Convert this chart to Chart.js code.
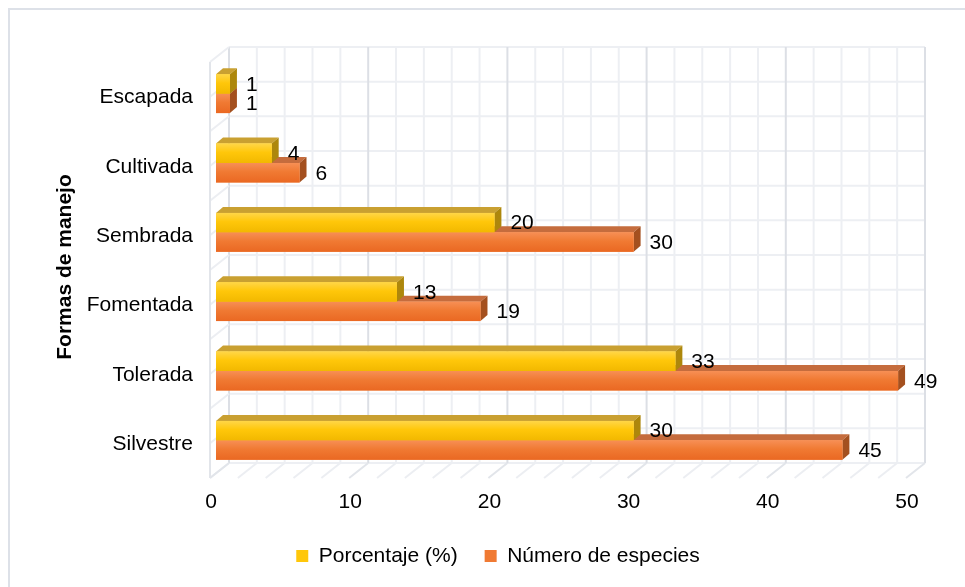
<!DOCTYPE html>
<html>
<head>
<meta charset="utf-8">
<title>Formas de manejo</title>
<script src="https://cdn.jsdelivr.net/npm/chart.js@4"></script>
<style>
    html, body { margin: 0; padding: 0; background: #fff; }
    #wrap { width: 965px; height: 587px; }
</style>
</head>
<body>
<div id="wrap"><canvas id="chart" width="965" height="587"></canvas></div>
<script>
// Data
const categories = ['Escapada', 'Cultivada', 'Sembrada', 'Fomentada', 'Tolerada', 'Silvestre'];
const porcentaje = [1, 4, 20, 13, 33, 30];
const numeroEspecies = [1, 6, 30, 19, 49, 45];
const xMin = 0;
const xMax = 50;
const xStep = 10;
const gridStep = 2;

const FONT = '"Liberation Sans", Arial, sans-serif';

// 3D offsets (pixels)
const BACK = { dx: 13, dy: -12 };
const FRONT = { dx: -6, dy: 3 };
const DEPTH = { dx: 7, dy: -6 };

// Face colours per dataset
const faces = [
    { front: ['#ffd648', '#f2b800'], top: '#c9a031', side: '#ad870c' },
    { front: ['#f78f55', '#ea6822'], top: '#c56c3d', side: '#a4501f' }
];

function line(ctx, x1, y1, x2, y2) {
    ctx.beginPath();
    ctx.moveTo(x1, y1);
    ctx.lineTo(x2, y2);
    ctx.stroke();
}

function poly(ctx, pts, color) {
    ctx.beginPath();
    ctx.moveTo(pts[0][0], pts[0][1]);
    for (let i = 1; i < pts.length; i++) ctx.lineTo(pts[i][0], pts[i][1]);
    ctx.closePath();
    ctx.fillStyle = color;
    ctx.fill();
}

function barBox(el) {
    const p = el.getProps(['x', 'y', 'base', 'height'], true);
    return {
        left: Math.min(p.base, p.x),
        right: Math.max(p.base, p.x),
        top: p.y - p.height / 2,
        bottom: p.y + p.height / 2,
        cy: p.y
    };
}

const box3d = {
    id: 'box3d',
    beforeDraw(chart) {
        // outer frame
        const ctx = chart.ctx;
        ctx.save();
        ctx.strokeStyle = '#dde1e8';
        ctx.lineWidth = 2;
        ctx.strokeRect(9, 9, chart.width, chart.height);
        ctx.restore();
    },
    beforeDatasetsDraw(chart) {
        const ctx = chart.ctx;
        const xs = chart.scales.x;
        const ys = chart.scales.y;
        const half = (ys.getPixelForValue(1) - ys.getPixelForValue(0)) / 2;
        const yTop = ys.getPixelForValue(0) - half;
        const rows = [];
        for (let k = 0; k <= categories.length * 2; k++) rows.push(yTop + k * half);
        const yBottom = rows[rows.length - 1];
        const x0 = xs.getPixelForValue(xMin);
        const x1 = xs.getPixelForValue(xMax);

        ctx.save();
        ctx.lineWidth = 2;

        // back wall
        ctx.strokeStyle = '#edeff3';
        rows.forEach(y => line(ctx, x0 + BACK.dx, y + BACK.dy, x1 + BACK.dx, y + BACK.dy));
        for (let v = xMin; v <= xMax; v += gridStep) {
            const x = xs.getPixelForValue(v);
            ctx.strokeStyle = v % xStep === 0 ? '#dcdfe5' : '#edeff3';
            line(ctx, x + BACK.dx, yTop + BACK.dy, x + BACK.dx, yBottom + BACK.dy);
        }

        // left wall
        ctx.strokeStyle = '#eceef2';
        rows.forEach(y => line(ctx, x0 + FRONT.dx, y + FRONT.dy, x0 + BACK.dx, y + BACK.dy));
        ctx.strokeStyle = '#e2e5ea';
        line(ctx, x0 + FRONT.dx, yTop + FRONT.dy, x0 + FRONT.dx, yBottom + FRONT.dy);

        // floor
        for (let v = xMin; v <= xMax; v += gridStep) {
            const x = xs.getPixelForValue(v);
            ctx.strokeStyle = v % xStep === 0 ? '#e2e5ea' : '#eceef2';
            line(ctx, x + FRONT.dx, yBottom + FRONT.dy, x + BACK.dx, yBottom + BACK.dy);
        }

        // bar top and side faces, back row first
        [1, 0].forEach(di => {
            const meta = chart.getDatasetMeta(di);
            meta.data.forEach(el => {
                const b = barBox(el);
                poly(ctx, [
                    [b.left, b.top], [b.right, b.top],
                    [b.right + DEPTH.dx, b.top + DEPTH.dy], [b.left + DEPTH.dx, b.top + DEPTH.dy]
                ], faces[di].top);
                poly(ctx, [
                    [b.right, b.top], [b.right + DEPTH.dx, b.top + DEPTH.dy],
                    [b.right + DEPTH.dx, b.bottom + DEPTH.dy], [b.right, b.bottom]
                ], faces[di].side);
            });
        });
        ctx.restore();
    },
    afterDatasetsDraw(chart) {
        const ctx = chart.ctx;
        ctx.save();
        // shaded front faces
        [1, 0].forEach(di => {
            chart.getDatasetMeta(di).data.forEach(el => {
                const b = barBox(el);
                const g = ctx.createLinearGradient(0, b.top, 0, b.bottom);
                g.addColorStop(0, faces[di].front[0]);
                g.addColorStop(0.45, chart.data.datasets[di].backgroundColor);
                g.addColorStop(1, faces[di].front[1]);
                ctx.fillStyle = g;
                ctx.fillRect(b.left, b.top, b.right - b.left, b.bottom - b.top);
            });
        });

        // value labels
        ctx.font = '21px ' + FONT;
        ctx.fillStyle = '#000';
        ctx.textAlign = 'left';
        ctx.textBaseline = 'middle';
        [1, 0].forEach(di => {
            const values = chart.data.datasets[di].data;
            chart.getDatasetMeta(di).data.forEach((el, i) => {
                const b = barBox(el);
                ctx.fillText(String(values[i]), b.right + DEPTH.dx + 9, b.cy + 1);
            });
        });
        ctx.restore();
    }
};

Chart.defaults.font.family = FONT;
Chart.defaults.font.size = 21;
Chart.defaults.color = '#000';

new Chart(document.getElementById('chart'), {
    type: 'bar',
    data: {
        labels: categories,
        datasets: [{
            label: 'Porcentaje (%)',
            data: porcentaje,
            backgroundColor: '#ffc70a',
            borderWidth: 0
        }, {
            label: 'Número de especies',
            data: numeroEspecies,
            backgroundColor: '#f07a33',
            borderWidth: 0
        }]
    },
    options: {
        indexAxis: 'y',
        responsive: false,
        animation: false,
        categoryPercentage: 0.56,
        barPercentage: 1,
        layout: {
            padding: { top: 59, right: 53, left: 84, bottom: 10.5 }
        },
        plugins: {
            legend: {
                position: 'bottom',
                labels: {
                    boxWidth: 12,
                    boxHeight: 12,
                    padding: 27,
                    font: { size: 21 }
                }
            },
            tooltip: { enabled: false }
        },
        scales: {
            x: {
                min: xMin,
                max: xMax,
                grid: { display: false, drawTicks: false },
                border: { display: false },
                ticks: {
                    stepSize: xStep,
                    padding: 15,
                    labelOffset: -5,
                    maxRotation: 0
                },
                afterFit: (scale) => { scale.height = 43.5; }
            },
            y: {
                grid: { display: false, drawTicks: false },
                border: { display: false },
                ticks: {
                    padding: 23,
                    labelOffset: 4
                },
                title: {
                    display: true,
                    text: 'Formas de manejo',
                    font: { size: 21, weight: 'bold' },
                    padding: { top: -31.6, bottom: 0 }
                },
                afterFit: (scale) => { scale.width = 132; }
            }
        }
    },
    plugins: [box3d]
});
</script>
</body>
</html>
